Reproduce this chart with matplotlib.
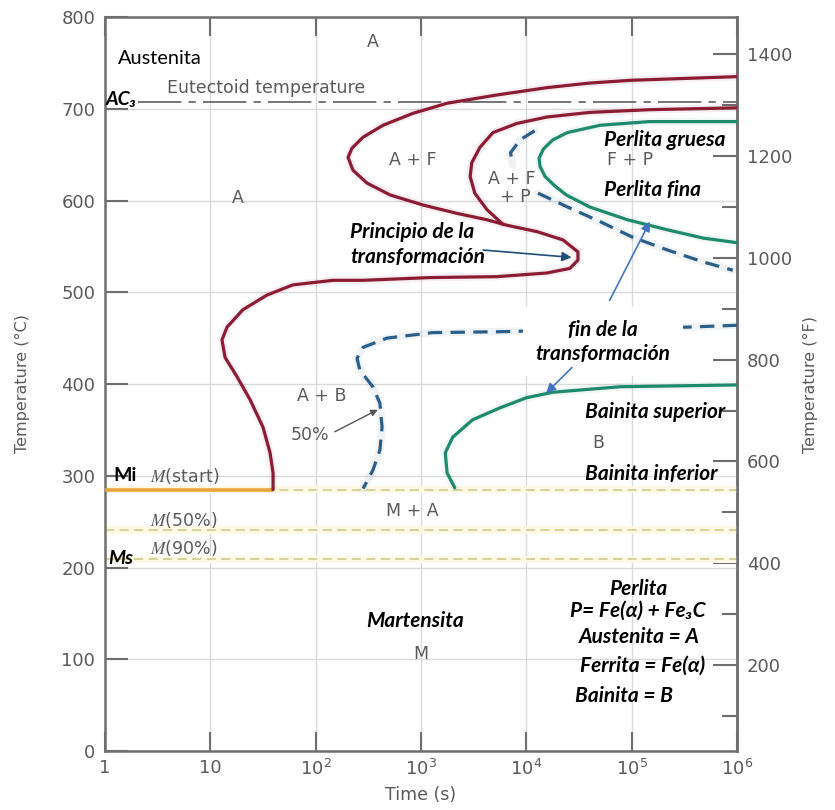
import numpy as np
import matplotlib
matplotlib.use("Agg")
import matplotlib.pyplot as plt
from matplotlib.ticker import FixedLocator, FixedFormatter, NullLocator

# ---------------- data (time in s, temperature in °C) ----------------
start_t = [1e6, 98000, 39800, 15700, 5250, 1770, 838, 436, 282, 221, 203, 226, 307,
           510, 1050, 2190, 4230, 6560, 12700, 22300, 30900, 30900, 25900, 15700,
           5250, 1220, 282, 146, 60.6, 34.6, 20.4, 14.4, 12.9, 13.8, 17.9, 23.8,
           31.6, 36.9, 39.4, 39.4]
start_T = [735, 731, 728, 723, 715, 706, 695, 682, 669, 657, 647, 633, 619,
           606, 595, 586, 579, 573, 566, 557, 544, 535, 526, 521,
           517, 516, 513, 513, 508, 497, 481, 462, 448, 429, 408, 383,
           353, 325, 303, 285]

inner_t = [1e6, 149000, 39800, 15700, 8130, 4820, 3630, 3030, 2930, 3240, 4230, 6000]
inner_T = [701, 699, 696, 691, 684, 674, 658, 641, 626, 608, 590, 574]

pearl_end_t = [1e6, 148000, 50100, 24500, 17800, 14500, 13200, 13500, 15100, 18600,
               24000, 39800, 91200, 219000, 479000, 1e6]
pearl_end_T = [686, 686, 682, 674, 666, 656, 646, 637, 626, 616,
               606, 593, 579, 568, 559, 554]

pearl50_a_t = [12000, 8710, 7080, 7410]
pearl50_a_T = [676, 666, 652, 639]
pearl50_b_t = [12900, 24500, 50100, 102000, 219000, 479000, 912000]
pearl50_b_T = [608, 593, 577, 560, 546, 533, 524]

bain50_t = [1e6, 339000, 5620, 1290, 476, 282, 247, 263, 349, 407, 427, 407, 349, 282]
bain50_T = [464, 462, 457, 456, 450, 440, 428, 415, 397, 379, 353, 328, 306, 286]

bain_end_t = [2090, 1770, 1700, 2000, 3090, 5620, 10000, 17800, 77600, 1e6]
bain_end_T = [287, 303, 325, 342, 361, 374, 385, 391, 397, 399]

eutectoid_T = 707
m_start_T = 285
m_50_T = 241
m_90_T = 209
m_start_end_t = 39.4

x_ticks = [1, 10, 1e2, 1e3, 1e4, 1e5, 1e6]
x_labels = ["1", "10", "$10^{2}$", "$10^{3}$", "$10^{4}$", "$10^{5}$", "$10^{6}$"]
y_ticks = [0, 100, 200, 300, 400, 500, 600, 700, 800]
f_major = [200, 400, 600, 800, 1000, 1200, 1400]
f_minor = [100, 300, 500, 700, 900, 1100, 1300]

# ---------------- styling ----------------
RED = "#8c1c34"
GREEN = "#1d8a6c"
BLUE = "#2b5e88"
ORANGE = "#e6a43c"
MLINE = "#cfc48a"
GRAYTXT = "#5a5a5a"
SPINE = "#6e6e6e"
BI = dict(family=["Lato", "DejaVu Sans"], weight="bold", style="italic", color="black")
GT = dict(family=["DejaVu Sans"], color=GRAYTXT)

fig = plt.figure(figsize=(8.35, 8.10), dpi=100)
ax = fig.add_axes([0.12575, 0.07284, 0.75689, 0.90617])
ax.set_xscale("log")
ax.set_xlim(1, 1e6)
ax.set_ylim(0, 800)

ax.set_axisbelow(True)
ax.grid(True, which="major", color="#dadada", lw=1.0)
ax.xaxis.set_major_locator(FixedLocator(x_ticks))
ax.xaxis.set_major_formatter(FixedFormatter(x_labels))
ax.xaxis.set_minor_locator(NullLocator())
ax.yaxis.set_major_locator(FixedLocator(y_ticks))
ax.tick_params(axis="x", which="major", direction="in", top=True, length=14,
               width=1.5, colors=SPINE, labelcolor=GRAYTXT, labelsize=13, pad=6)
ax.tick_params(axis="y", which="major", direction="in", length=16.5,
               width=1.5, colors=SPINE, labelcolor=GRAYTXT, labelsize=13, pad=7)
for lab in ax.get_xticklabels() + ax.get_yticklabels():
    lab.set_family("DejaVu Sans")
for sp in ax.spines.values():
    sp.set_color(SPINE)
    sp.set_linewidth(1.8)

ax.set_xlabel("Time (s)", fontsize=12.5, color=GRAYTXT, labelpad=5)
ax.set_ylabel("Temperature (°C)", fontsize=11.5, color=GRAYTXT)
ax.yaxis.set_label_coords(-0.119, 0.5)

sec = ax.secondary_yaxis("right", functions=(lambda c: c * 9 / 5 + 32,
                                             lambda f: (f - 32) * 5 / 9))
sec.yaxis.set_major_locator(FixedLocator(f_major))
sec.yaxis.set_minor_locator(FixedLocator(f_minor))
sec.tick_params(which="major", direction="in", length=17, width=1.5, colors=SPINE,
                labelcolor=GRAYTXT, labelsize=13, pad=7)
sec.tick_params(which="minor", direction="in", length=11, width=1.5, colors=SPINE)
sec.spines["right"].set_color(SPINE)
sec.spines["right"].set_linewidth(1.8)
sec.set_ylabel("Temperature (°F)", fontsize=11.5, color=GRAYTXT, labelpad=8)

# ---------------- martensite lines ----------------
for T in (m_start_T, m_50_T, m_90_T):
    ax.axhspan(T - 4, T + 4, color="#fdf9e4", lw=0, zorder=1)
    ax.axhline(T, color=MLINE, lw=1.1, ls=(0, (6, 3.5)), zorder=2)
ax.plot([1, m_start_end_t], [m_start_T, m_start_T], color=ORANGE, lw=2.6,
        solid_capstyle="butt", zorder=3)

# eutectoid
ax.axhline(eutectoid_T, xmin=0.052, color="#6a6a6a", lw=1.3,
           ls=(0, (24, 4, 4, 4)), zorder=2)


def curve(t, T, color, dashed=False):
    ls = (0, (4.5, 2.6)) if dashed else "-"
    ax.plot(t, T, color=color, lw=5.5, alpha=0.07, solid_joinstyle="round",
            solid_capstyle="round", zorder=3)
    ax.plot(t, T, color=color, lw=2.3, ls=ls, solid_joinstyle="round",
            solid_capstyle="round", dash_joinstyle="round", zorder=4)


curve(start_t, start_T, RED)
curve(inner_t, inner_T, RED)
curve(pearl_end_t, pearl_end_T, GREEN)
curve(bain_end_t, bain_end_T, GREEN)
curve(pearl50_a_t, pearl50_a_T, BLUE, dashed=True)
curve(pearl50_b_t, pearl50_b_T, BLUE, dashed=True)
curve(bain50_t, bain50_T, BLUE, dashed=True)

# ---------------- gray region labels ----------------
gsz = 12.5
ax.text(347, 773, "A", ha="center", va="center", fontsize=gsz, **GT)
ax.text(33.9, 723, "Eutectoid temperature", ha="center", va="center", fontsize=gsz, **GT)
ax.text(18.3, 603, "A", ha="center", va="center", fontsize=gsz, **GT)
ax.text(832, 644, "A + F", ha="center", va="center", fontsize=gsz, **GT)
ax.text(7200, 623, "A + F", ha="center", va="center", fontsize=gsz, **GT)
ax.text(7800, 604, "+ P", ha="center", va="center", fontsize=gsz, **GT)
ax.text(95900, 644, "F + P", ha="center", va="center", fontsize=gsz, **GT)
ax.text(115, 387, "A + B", ha="center", va="center", fontsize=gsz, **GT)
ax.text(89, 344, "50%", ha="center", va="center", fontsize=gsz, **GT)
ax.annotate("", xy=(389, 372), xytext=(152, 348),
            arrowprops=dict(arrowstyle="-|>", color="#555555", lw=1.0,
                            mutation_scale=10, shrinkA=0, shrinkB=0), zorder=5)
ax.text(47900, 336, "B", ha="center", va="center", fontsize=gsz, **GT)
ax.text(832, 262, "M + A", ha="center", va="center", fontsize=gsz, **GT)
ax.text(1000, 106, "M", ha="center", va="center", fontsize=gsz, **GT)
for T, s in ((300, r"$M$(start)"), (252, r"$M$(50%)"), (221, r"$M$(90%)")):
    ax.text(2.7, T, s, ha="left", va="center", fontsize=gsz, math_fontfamily="stix", **GT)

# ---------------- black annotations ----------------
bsz = 15
ax.text(1.32, 755, "Austenita", ha="left", va="center", fontsize=14.4,
        family=["Lato", "DejaVu Sans"], color="black")
ax.text(1.02, 710, "AC₃", ha="left", va="center", fontsize=14, **BI)
ax.text(1.19, 300, "Mi", ha="left", va="center", fontsize=14,
        family=["Lato", "DejaVu Sans"], weight="bold", color="black")
ax.text(1.07, 210, "Ms", ha="left", va="center", fontsize=14, **BI)

ax.text(212, 566, "Principio de la", ha="left", va="center", fontsize=bsz, **BI)
ax.text(212, 538, "transformación", ha="left", va="center", fontsize=bsz, **BI)
ax.annotate("", xy=(26900, 538), xytext=(3890, 546),
            arrowprops=dict(arrowstyle="-|>", color="#1f4e79", lw=1.2,
                            mutation_scale=14, shrinkA=0, shrinkB=0), zorder=5)

ax.text(55000, 666, "Perlita gruesa", ha="left", va="center", fontsize=bsz, **BI)
ax.text(55000, 611, "Perlita fina", ha="left", va="center", fontsize=bsz, **BI)

ax.text(53700, 446, "fin de la\ntransformación", ha="center", va="center",
        fontsize=bsz, linespacing=1.25, zorder=6,
        bbox=dict(facecolor="white", edgecolor="none", pad=9), **BI)
ax.annotate("", xy=(149000, 577), xytext=(61700, 491),
            arrowprops=dict(arrowstyle="-|>", color="#4472c4", lw=1.2,
                            mutation_scale=14, shrinkA=0, shrinkB=0), zorder=7)
ax.annotate("", xy=(15400, 390), xytext=(27100, 418),
            arrowprops=dict(arrowstyle="-|>", color="#4472c4", lw=1.2,
                            mutation_scale=14, shrinkA=0, shrinkB=0), zorder=7)

ax.text(36100, 370, "Bainita superior", ha="left", va="center", fontsize=bsz, **BI)
ax.text(36100, 302, "Bainita inferior", ha="left", va="center", fontsize=bsz, **BI)

ax.text(871, 142, "Martensita", ha="center", va="center", fontsize=bsz, **BI)

ax.text(115000, 177, "Perlita", ha="center", va="center", fontsize=bsz, **BI)
ax.text(115000, 153, "P= Fe(α) + Fe₃C", ha="center", va="center", fontsize=bsz, **BI)
ax.text(117000, 124, "Austenita = A", ha="center", va="center", fontsize=bsz, **BI)
ax.text(128000, 93, "Ferrita = Fe(α)", ha="center", va="center", fontsize=bsz, **BI)
ax.text(85000, 60, "Bainita = B", ha="center", va="center", fontsize=bsz, **BI)

fig.savefig("out.png", dpi=100)
